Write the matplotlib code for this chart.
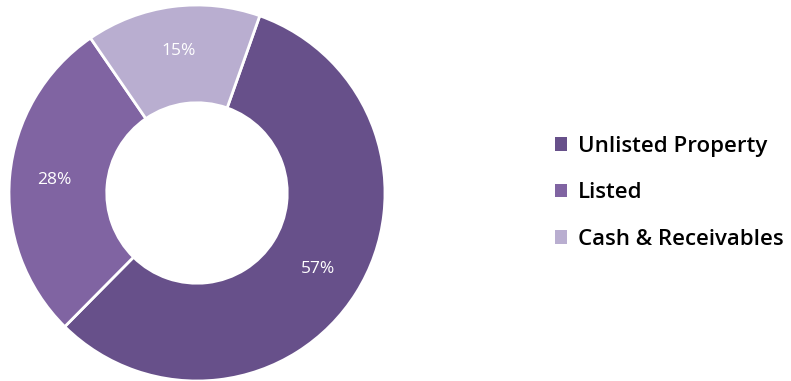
import matplotlib.pyplot as plt
from matplotlib.patches import Patch

labels = ['Unlisted Property', 'Listed', 'Cash & Receivables']
values = [57, 28, 15]
colors = ['#67508a', '#8064a2', '#b9aed0']

fig = plt.figure(figsize=(7.91, 3.81), dpi=100)
W, H = 791, 381

# donut axes, centre at (197, 193) px from top-left
cx, cy, half = 197, 381 - 193, 190
ax = fig.add_axes([(cx - half) / W, (cy - half) / H, 2 * half / W, 2 * half / H])
ax.set_aspect('equal')
ax.axis('off')

r = 188 / half
wedges, texts, autotexts = ax.pie(
    values, colors=colors, radius=r, startangle=70.5, counterclock=False,
    autopct='%d%%', pctdistance=0.76,
    wedgeprops=dict(width=r * 0.52, edgecolor='white', linewidth=2),
    textprops=dict(color='white', fontsize=12.5, family='Open Sans'))
ax.set_xlim(-1, 1)
ax.set_ylim(-1, 1)

handles = [Patch(facecolor=c, edgecolor='none') for c in colors]
leg = fig.legend(handles, labels, loc='center left', bbox_to_anchor=(535 / W, 1 - 193 / H),
                 frameon=False, handlelength=0.55, handleheight=0.55, handletextpad=0.5,
                 labelspacing=1.15, prop=dict(family='Open Sans', size=16, weight='semibold'))

fig.savefig('out.png', dpi=100)
